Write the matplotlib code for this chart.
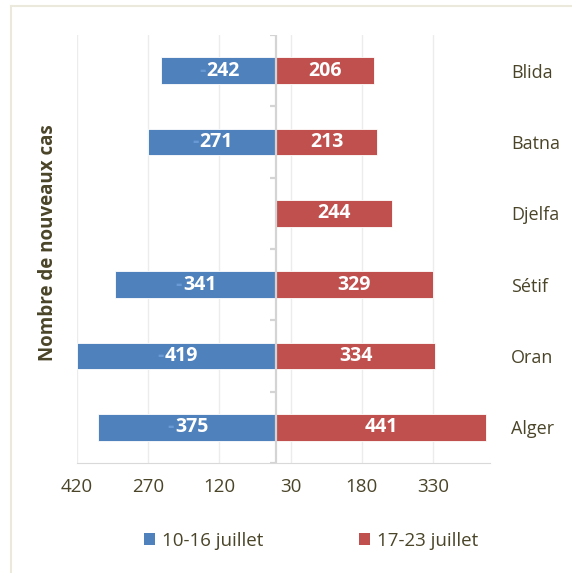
import numpy as np
import matplotlib
matplotlib.use("Agg")
import matplotlib.pyplot as plt
from matplotlib.patches import Patch
from matplotlib.lines import Line2D

# ─── données ───────────────────────────────────────────
villes = ["Blida", "Batna", "Djelfa", "Sétif", "Oran", "Alger"]
sem1 = [242, 271, None, 341, 419, 375]   # 10-16 juillet (barres à gauche)
sem2 = [206, 213, 244, 329, 334, 441]    # 17-23 juillet (barres à droite)
labels_series = ["10-16 juillet", "17-23 juillet"]
xticks = [-420, -270, -120, 30, 180, 330]

BLEU = "#4F81BD"
ROUGE = "#C0504D"
TXT = "#4a4529"

plt.rcParams["font.family"] = ["Open Sans", "DejaVu Sans"]

fig = plt.figure(figsize=(5.72, 5.73), dpi=100)
ax = fig.add_axes([77 / 572, 1 - 463 / 573, (490 - 77) / 572, (463 - 35) / 573])

y = np.arange(len(villes))
gauche = [-(v if v is not None else 0) for v in sem1]
ax.barh(y, gauche, height=0.37, color=BLEU, edgecolor="white", linewidth=0.6, zorder=3)
ax.barh(y, sem2, height=0.37, color=ROUGE, edgecolor="white", linewidth=0.6, zorder=3)

# étiquettes de valeurs
for i, v in enumerate(sem1):
    if v is None:
        continue
    ax.annotate(str(v), (-v / 2, i), xytext=(-9, 0), textcoords="offset points",
                ha="left", va="center", color="white", fontsize=14, fontweight="bold", zorder=4)
    ax.annotate("-", (-v / 2, i), xytext=(-9.5, 0), textcoords="offset points",
                ha="right", va="center", color="#6a9ad6", fontsize=14, fontweight="bold", zorder=4)
for i, v in enumerate(sem2):
    ax.text(v / 2, i, str(v), ha="center", va="center", color="white",
            fontsize=14, fontweight="bold", zorder=4)

ax.set_xlim(-420, 450)
ax.set_ylim(len(villes) - 0.5, -0.5)

# axe central
ax.axvline(0, color="#d4d4d4", linewidth=1.6, zorder=5)
ax.hlines(np.arange(len(villes) + 1) - 0.5, -14, 0, color="#d4d4d4", linewidth=1.6, zorder=5)

ax.set_xticks(xticks)
ax.set_xticklabels([str(abs(t)) for t in xticks], fontsize=13.5, color=TXT)
ax.tick_params(axis="x", length=0, pad=11)
ax.grid(axis="x", color="#ececec", linewidth=1, zorder=0)

ax.yaxis.tick_right()
ax.set_yticks(y)
ax.set_yticklabels(villes, fontsize=13, color=TXT)
ax.tick_params(axis="y", length=0, pad=15)

for s in ["top", "left", "right"]:
    ax.spines[s].set_visible(False)
ax.spines["bottom"].set_color("#d9d9d9")

fig.text(48 / 572, 1 - 242.5 / 573, "Nombre de nouveaux cas", rotation=90,
         ha="center", va="center", fontsize=13.5, fontweight="bold", color=TXT)

handles = [Patch(facecolor=BLEU), Patch(facecolor=ROUGE)]
leg = fig.legend(handles, labels_series, loc="center", bbox_to_anchor=(311 / 572, 1 - 541 / 573),
                 ncol=2, frameon=False, fontsize=13.5, handlelength=0.6, handleheight=0.6,
                 handletextpad=0.35, columnspacing=5.1)
for t in leg.get_texts():
    t.set_color(TXT)

# bordure du graphique
fig.add_artist(Line2D([11 / 572, 11 / 572], [0, 1 - 6 / 573], transform=fig.transFigure,
                      color="#ebe9dc", linewidth=1.5))
fig.add_artist(Line2D([11 / 572, 1], [1 - 6 / 573, 1 - 6 / 573], transform=fig.transFigure,
                      color="#ebe9dc", linewidth=1.5))

fig.savefig("out.png", dpi=100)
plt.close(fig)
